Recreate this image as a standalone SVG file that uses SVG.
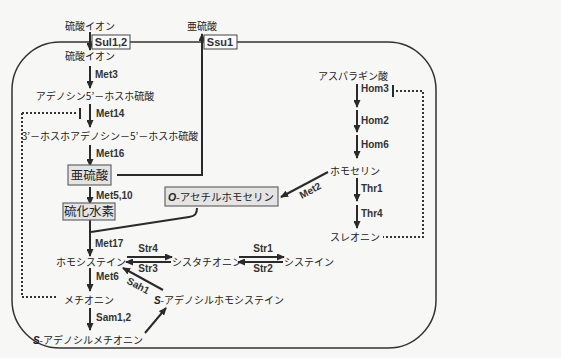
<svg xmlns="http://www.w3.org/2000/svg" width="561" height="358" viewBox="0 0 561 358">
<defs>
<marker id="ah" markerUnits="userSpaceOnUse" markerWidth="8" markerHeight="7" refX="7" refY="3.5" orient="auto"><path d="M0,0 L8,3.5 L0,7 z" fill="#2a2a2a"/></marker>
<style>
.jp{font-family:"Noto Sans CJK JP","Noto Sans",sans-serif;font-size:10px;fill:#222;text-anchor:middle}
.lb{font-family:"Liberation Sans",Arial,sans-serif;font-size:10px;font-weight:bold;fill:#333}
.bx{font-family:"Liberation Sans",Arial,sans-serif;font-size:11px;font-weight:bold;fill:#333;text-anchor:middle}
.ln{fill:none;stroke:#2a2a2a;stroke-width:2}
.ar{fill:none;stroke:#2a2a2a;stroke-width:2;marker-end:url(#ah)}
.dt{fill:none;stroke:#333;stroke-width:2;stroke-dasharray:2,2}
.wb{fill:#fbfbfb;stroke:#444;stroke-width:1}
.gb{fill:#e4e4e4;stroke:#666;stroke-width:1.2}
.big{font-family:"Noto Sans CJK JP",sans-serif;font-size:12.5px;fill:#222;text-anchor:middle}
</style>
</defs>
<rect width="561" height="358" fill="#f7f7f5"/>
<rect id="cell" x="12" y="42" width="424" height="306" rx="48" fill="none" stroke="#333" stroke-width="1.5"/>

<g id="connectors">
<path class="ar" d="M90,32 V50"/>
<path class="ar" d="M90,66 V88"/>
<path class="ar" d="M90,104 V127"/>
<path class="ar" d="M90,145 V166"/>
<path class="ln" d="M117,175 H202 V40"/>
<path class="ar" d="M202,60 V34"/>
<path class="ar" d="M90,187 V204"/>
<path class="ar" d="M90,220 V256"/>
<path class="ln" d="M197,208 C197,214 195,216 189,217 L91,232"/>
<path class="ar" d="M90,268 V291"/>
<path class="ar" d="M90,308 V330"/>
<path class="ar" d="M145,333 L166,308"/>
<path class="ar" d="M163,290 L123,268"/>
<path class="ar" d="M127,257 H172"/>
<path class="ar" d="M171,262 H126"/>
<path class="ar" d="M239,257 H284"/>
<path class="ar" d="M283,262 H238"/>
<path class="ar" d="M357,84 V107"/>
<path class="ar" d="M357,110 V132"/>
<path class="ar" d="M357,135 V158"/>
<path class="ar" d="M328,172 L281,197"/>
<path class="ar" d="M357,178 V201"/>
<path class="ar" d="M357,205 V228"/>
<path class="dt" d="M22,113 H77"/>
<path class="ln" d="M80,108 V119"/>
<path class="dt" d="M22,113 V297 H57"/>
<path class="ln" d="M393,85 V97"/>
<path class="dt" d="M396,91 H423 V237 H383"/>
</g>

<g id="labels">
<text class="lb" x="95" y="78">Met3</text>
<text class="lb" x="96" y="117">Met14</text>
<text class="lb" x="96" y="157">Met16</text>
<text class="lb" x="96" y="199">Met5,10</text>
<text class="lb" x="95" y="247">Met17</text>
<text class="lb" x="96" y="280">Met6</text>
<text class="lb" x="96" y="321">Sam1,2</text>
<text class="lb" x="148" y="252" text-anchor="middle">Str4</text>
<text class="lb" x="148" y="272" text-anchor="middle">Str3</text>
<text class="lb" x="263" y="252" text-anchor="middle">Str1</text>
<text class="lb" x="263" y="272" text-anchor="middle">Str2</text>
<text class="lb" x="138" y="289" text-anchor="middle" transform="rotate(28 138 286)">Sah1</text>
<text class="lb" x="310" y="194" text-anchor="middle" transform="rotate(-28 310 190)">Met2</text>
<text class="lb" x="361" y="92">Hom3</text>
<text class="lb" x="361" y="124">Hom2</text>
<text class="lb" x="361" y="148">Hom6</text>
<text class="lb" x="361" y="192">Thr1</text>
<text class="lb" x="361" y="217">Thr4</text>
</g>

<g id="n-sulfate-out"><text class="jp" x="90" y="30">硫酸イオン</text></g>
<g id="n-sul12"><rect class="wb" x="92" y="35" width="38" height="14"/><text class="bx" x="111" y="46">Sul1,2</text></g>
<g id="n-sulfite-out"><text class="jp" x="202" y="30">亜硫酸</text></g>
<g id="n-ssu1"><rect class="wb" x="204" y="35" width="33" height="14"/><text class="bx" x="220" y="46">Ssu1</text></g>
<g id="n-sulfate-in"><text class="jp" x="90" y="60">硫酸イオン</text></g>
<g id="n-aps"><text class="jp" x="95" y="100">アデノシン5’－ホスホ硫酸</text></g>
<g id="n-paps"><text class="jp" x="110" y="140">3’－ホスホアデノシン－5’－ホスホ硫酸</text></g>
<g id="n-sulfite"><rect class="gb" x="68" y="165" width="43" height="20"/><text class="big" x="89.5" y="180">亜硫酸</text></g>
<g id="n-h2s"><rect class="gb" x="63" y="203" width="52" height="17"/><text class="big" x="89" y="216">硫化水素</text></g>
<g id="n-oah"><rect class="gb" x="165" y="187" width="113" height="19"/><text class="jp" x="221" y="201" style="font-size:10.5px"><tspan font-family="Liberation Sans" font-weight="bold" font-style="italic">O</tspan>-アセチルホモセリン</text></g>
<g id="n-hcy"><text class="jp" x="91" y="266">ホモシステイン</text></g>
<g id="n-cysta"><text class="jp" x="207" y="266">シスタチオニン</text></g>
<g id="n-cys"><text class="jp" x="309" y="266">システイン</text></g>
<g id="n-met"><text class="jp" x="89" y="304">メチオニン</text></g>
<g id="n-sam"><text class="jp" x="88" y="344"><tspan font-family="Liberation Sans" font-weight="bold" font-style="italic">S</tspan>-アデノシルメチオニン</text></g>
<g id="n-sah"><text class="jp" x="219" y="304"><tspan font-family="Liberation Sans" font-weight="bold" font-style="italic">S</tspan>-アデノシルホモシステイン</text></g>
<g id="n-asp"><text class="jp" x="353" y="80">アスパラギン酸</text></g>
<g id="n-hser"><text class="jp" x="355" y="175">ホモセリン</text></g>
<g id="n-thr"><text class="jp" x="355" y="241">スレオニン</text></g>
</svg>
